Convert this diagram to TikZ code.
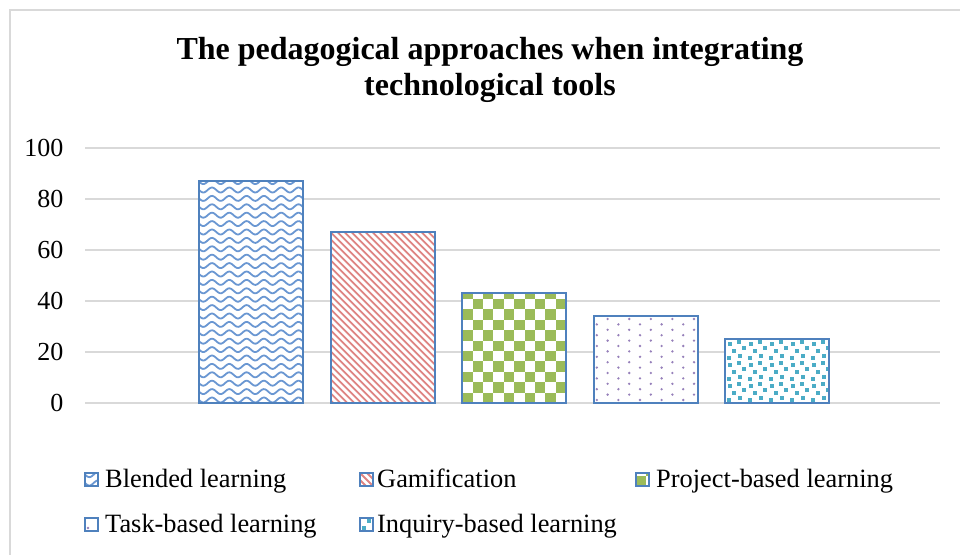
\documentclass[tikz,border=0pt]{standalone}
\usepackage{fontspec}
\setmainfont{Liberation Serif}

\definecolor{barblue}{HTML}{4F81BD}
\definecolor{wavecol}{HTML}{6A97D2}
\definecolor{slashcol}{HTML}{DE8482}
\definecolor{checkcol}{HTML}{9BBB59}
\definecolor{dotcol}{HTML}{9680BA}
\definecolor{confcol}{HTML}{4BACC6}
\definecolor{gridgray}{HTML}{D9D9D9}

% fills, args: left, top, right, bottom (pixel coordinates)
\newcommand{\barwaves}[4]{%
  \begin{scope}
    \clip (#1,#2) rectangle (#3,#4);
    \foreach \k in {0,...,30}
      \draw[wavecol, line width=1.8pt, domain=#1:#3, samples=80, smooth]
        plot (\x, {#4-3-8.4*\k+2.5*sin(20.8*(\x-#1))});
  \end{scope}}
\newcommand{\barslashes}[4]{%
  \begin{scope}
    \clip (#1,#2) rectangle (#3,#4);
    \foreach \k in {-40,...,40}
      \draw[slashcol, line width=1.8pt] ({#1+7*\k},#2) -- ++(300,300);
  \end{scope}}
\newcommand{\barchecks}[4]{%
  \begin{scope}
    \clip (#1,#2) rectangle (#3,#4);
    \foreach \rb in {0,...,12}{
      \pgfmathtruncatemacro{\off}{mod(\rb,2)}
      \foreach \ca in {0,...,5}
        \fill[checkcol] ({#1+10.4*(2*\ca+\off)},{#4-10.4*\rb}) rectangle ++(10.4,-10.4);
    }
  \end{scope}}
\newcommand{\bardots}[4]{%
  \begin{scope}
    \clip (#1,#2) rectangle (#3,#4);
    \foreach \rb in {0,...,30}{
      \pgfmathsetmacro{\off}{10.8*mod(\rb,2)}
      \foreach \ca in {0,...,5}
        \fill[dotcol] ({#1+3+\off+21.6*\ca},{#4-3-5.4*\rb}) circle (1.3);
    }
  \end{scope}}
\newcommand{\barconfetti}[4]{%
  \begin{scope}
    \clip (#1,#2) rectangle (#3,#4);
    \foreach \ca in {0,...,5}
      \foreach \rb in {0,...,8}
        \foreach \dx/\dy in {2/1,13/3,7/8,17/11,3/15,12/17}
          \fill[confcol] ({#1+21*\ca+\dx},{#4-21*\rb-\dy}) rectangle ++(4,-4);
  \end{scope}}

\begin{document}
\begin{tikzpicture}[x=1pt,y=-1pt]
\tikzstyle{gridline}=[gridgray, line width=1.5pt]
\tikzstyle{ticklabel}=[anchor=east, inner sep=0pt, font=\fontsize{26}{30}\selectfont]
\tikzstyle{legendtext}=[anchor=base west, inner sep=0pt, font=\fontsize{26.4}{30}\selectfont]
\tikzstyle{barframe}=[barblue, line width=2pt]
\useasboundingbox (0,0) rectangle (960,554);

% chart frame, cut off right and bottom
\draw[gridgray, line width=2pt] (10,600) -- (10,9.5) -- (1000,9.5);

\node[align=center, font=\fontsize{32}{36.5}\selectfont\bfseries] (title) at (490,70)
  {The pedagogical approaches when integrating\\technological tools};

% value axis
\foreach \t in {0,20,...,100}{
  \draw[gridline] (85,{403-2.55*\t}) -- (940,{403-2.55*\t});
  \node[ticklabel] (tick\t) at (63.5,{403-2.55*\t}) {\t};
}

% bars
\foreach \i/\v/\pat in {0/87/waves,1/67/slashes,2/43/checks,3/34/dots,4/25/confetti}{
  \pgfmathsetmacro{\xa}{199+131.6*\i}
  \pgfmathsetmacro{\xb}{\xa+104}
  \pgfmathsetmacro{\yt}{403-2.55*\v}
  \fill[white] (\xa,\yt) rectangle (\xb,403);
  \csname bar\pat\endcsname{\xa}{\yt}{\xb}{403}
  \draw[barframe] (\xa,\yt) rectangle (\xb,403);
}

% legend
\foreach \mx/\my/\pat/\tx/\txt/\nm in {85/473/waves/105/Blended learning/blended,
    360/473/slashes/377/Gamification/gamif,
    636/473/checks/656/Project-based learning/project,
    85/518/dots/105/Task-based learning/task,
    360/518/confetti/377/Inquiry-based learning/inquiry}{
  \fill[white] (\mx,\my) rectangle ++(13,13);
  \csname bar\pat\endcsname{\mx}{\my}{\mx+13}{\my+13}
  \draw[barframe] (\mx,\my) rectangle ++(13,13);
  \node[legendtext] (leg-\nm) at (\tx,\my+14) {\txt};
}
\end{tikzpicture}
\end{document}
